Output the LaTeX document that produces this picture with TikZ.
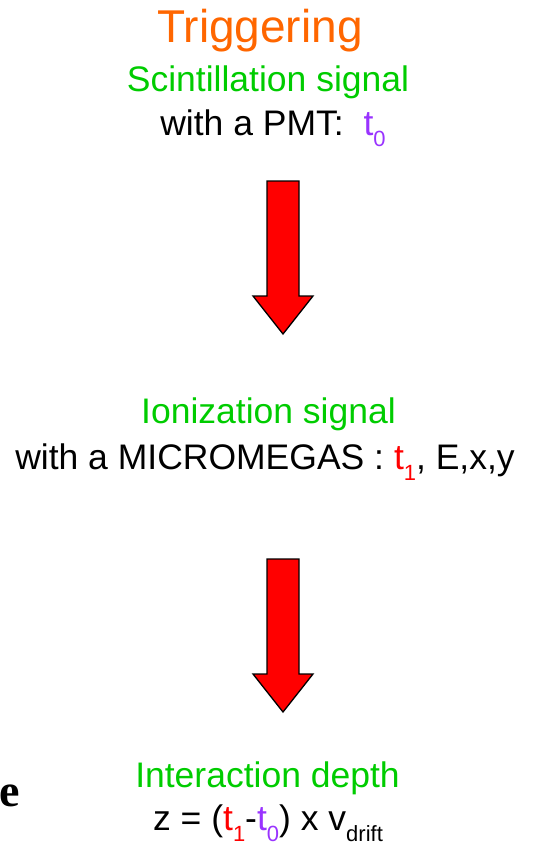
\documentclass[tikz,border=0pt]{standalone}
\usepackage{fontspec}
\setmainfont{Liberation Sans}
\newfontfamily\serifbold{Liberation Serif}
\definecolor{trigorange}{HTML}{FF6600}
\definecolor{siggreen}{HTML}{00CC00}
\definecolor{tzero}{HTML}{9933FF}
\definecolor{tone}{HTML}{FF0000}
% lowered, smaller index used for t_0, t_1 and v_drift
\newcommand\lowidx[1]{\raisebox{-11bp}{\fontsize{22bp}{22bp}\selectfont #1}}
\tikzset{
  txt/.style={anchor=base, inner sep=0pt, font=\fontsize{35.5bp}{40bp}\selectfont},
  title/.style={anchor=base, inner sep=0pt, text=trigorange, font=\fontsize{46bp}{50bp}\selectfont},
  green/.style={txt, text=siggreen},
  blockarrow/.pic={
    \filldraw[fill=red, draw=black, line width=1.3bp, line join=miter]
      (-16,0) -- (16,0) -- (16,115) -- (30,115) -- (0,153)
      -- (-30,115) -- (-16,115) -- cycle;
  }
}
\begin{document}
\begin{tikzpicture}[x=1bp, y=-1bp]
\useasboundingbox (0,0) rectangle (553,846);

\node[title] (trig) at (260,42) {Triggering};
\node[green] (scint) at (268,91) {Scintillation signal};
\node[txt] (pmt) at (273,135) {with a PMT:\ \ \textcolor{tzero}{t\lowidx{0}}};

\coordinate (a1) at (283,181);
\pic at (a1) {blockarrow};

\node[green] (ion) at (268.5,423) {Ionization signal};
\node[txt] (mm) at (265,469) {with a MICROMEGAS : \textcolor{tone}{t\lowidx{1}}, E,x,y};

\coordinate (a2) at (283,559);
\pic at (a2) {blockarrow};

\node[green] (depth) at (267.5,787) {Interaction depth};
\node[txt] (zeq) at (268,830) {z = (\textcolor{tone}{t\lowidx{1}}-\textcolor{tzero}{t\lowidx{0}}) x v\lowidx{drift}};

\node[anchor=base west, inner sep=0pt, font=\serifbold\bfseries\fontsize{46bp}{48bp}\selectfont] (frag) at (-1,806) {e};
\end{tikzpicture}
\end{document}
